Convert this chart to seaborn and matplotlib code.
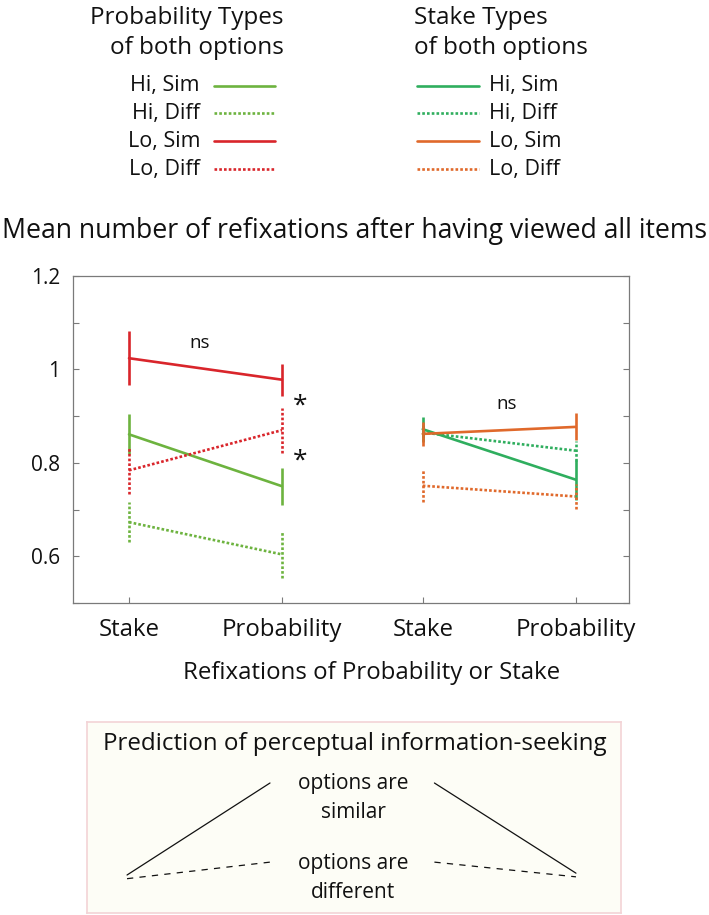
import matplotlib
matplotlib.use("Agg")
import matplotlib.pyplot as plt
import seaborn as sns
import numpy as np
import pandas as pd
from matplotlib.lines import Line2D

# ---------------- data ----------------
x_labels = ["Stake", "Probability", "Stake", "Probability"]
x_positions = [0.0, 1.0, 1.92, 2.92]
series_labels = ["Hi, Sim", "Hi, Diff", "Lo, Sim", "Lo, Diff"]
series_level = ["Hi", "Hi", "Lo", "Lo"]
series_similarity = ["Sim", "Diff", "Sim", "Diff"]

# Probability types of both options (left pair)
prob_means_at_stake = [0.861, 0.673, 1.024, 0.784]
prob_means_at_prob = [0.750, 0.604, 0.978, 0.870]
prob_err_at_stake = [0.043, 0.043, 0.058, 0.051]
prob_err_at_prob = [0.040, 0.050, 0.034, 0.048]

# Stake types of both options (right pair)
stake_means_at_stake = [0.872, 0.865, 0.862, 0.751]
stake_means_at_prob = [0.764, 0.826, 0.877, 0.728]
stake_err_at_stake = [0.026, 0.020, 0.026, 0.034]
stake_err_at_prob = [0.043, 0.021, 0.029, 0.026]

# Schematic prediction (arbitrary units)
pred_x_left = [0.0, 1.0]
pred_x_right = [2.15, 3.14]
pred_similar_left = [0.0, 1.0]
pred_similar_right = [1.0, 0.02]
pred_different_left = [-0.04, 0.14]
pred_different_right = [0.14, -0.02]

# ---------------- style ----------------
sns.set_theme(style="white")
plt.rcParams["font.family"] = ["Open Sans", "DejaVu Sans"]

GREEN_L = "#6db33f"
RED = "#d9252b"
GREEN_R = "#2fae5e"
ORANGE = "#e0692b"
GRAY = "#7a7a7a"
INK = "#111111"
LW = 1.9
DOT = (1, 0.8)

W, H = 709, 915
fig = plt.figure(figsize=(W / 100, H / 100), dpi=100)
fig.patch.set_facecolor("white")


def fx(x):
    return x / W


def fy(y):
    return 1 - y / H


def build(means_s, means_p, err_s, err_p, xs):
    rows = []
    for i, lab in enumerate(series_labels):
        rows.append(dict(series=lab, level=series_level[i], sim=series_similarity[i],
                         x=xs[0], mean=means_s[i], err=err_s[i]))
        rows.append(dict(series=lab, level=series_level[i], sim=series_similarity[i],
                         x=xs[1], mean=means_p[i], err=err_p[i]))
    return pd.DataFrame(rows)


df_prob = build(prob_means_at_stake, prob_means_at_prob, prob_err_at_stake,
                prob_err_at_prob, x_positions[:2])
df_stake = build(stake_means_at_stake, stake_means_at_prob, stake_err_at_stake,
                 stake_err_at_prob, x_positions[2:])

ax = fig.add_axes([fx(73), fy(603), fx(629) - fx(73), fy(276) - fy(603)])
ax.set_facecolor("white")

dashes = {"Sim": "", "Diff": DOT}
for df, pal in ((df_prob, {"Hi": GREEN_L, "Lo": RED}),
                (df_stake, {"Hi": GREEN_R, "Lo": ORANGE})):
    sns.lineplot(data=df, x="x", y="mean", hue="level", style="sim",
                 palette=pal, dashes=dashes, hue_order=["Hi", "Lo"],
                 style_order=["Sim", "Diff"], linewidth=LW, errorbar=None,
                 legend=False, ax=ax)
    for _, r in df.iterrows():
        ls = "-" if r["sim"] == "Sim" else (0, DOT)
        ax.vlines(r["x"], r["mean"] - r["err"], r["mean"] + r["err"],
                  colors=pal[r["level"]], linestyles=[ls], linewidth=LW)

ax.set_xlim(-0.366, 3.268)
ax.set_ylim(0.5, 1.2)
ax.set_xticks(x_positions)
ax.set_xticklabels(x_labels, fontsize=17.3, color=INK)
ax.set_yticks([0.6, 0.8, 1.0, 1.2])
ax.set_yticklabels(["0.6", "0.8", "1", "1.2"], fontsize=15, color=INK)
ax.set_yticks([0.5, 0.7, 0.9, 1.1], minor=True)
ax.tick_params(axis="both", which="both", direction="in", length=4, width=0.8,
               color=GRAY, right=True, left=True, bottom=True, top=False)
ax.tick_params(axis="y", which="major", pad=9)
ax.tick_params(axis="x", which="major", pad=11)
for s in ax.spines.values():
    s.set_color(GRAY)
    s.set_linewidth(0.9)
ax.set_ylabel("")
ax.set_xlabel("Refixations of Probability or Stake", fontsize=17.3, color=INK)
ax.xaxis.set_label_coords((372 - 73) / 556, (603 - 673) / 327)
ax.xaxis.label.set_va("center")

ax.text(0.464, 1.057, "ns", fontsize=13.5, ha="center", va="center", color=INK)
ax.text(2.47, 0.926, "ns", fontsize=13.5, ha="center", va="center", color=INK)
ax.text(1.118, 0.922, "*", fontsize=19, ha="center", va="center", color=INK)
ax.text(1.118, 0.804, "*", fontsize=19, ha="center", va="center", color=INK)

# title
fig.text(fx(355), fy(231), "Mean number of refixations after having viewed all items",
         fontsize=19.2, ha="center", va="center", color=INK)

# ---------------- legends ----------------
fig.text(fx(284), fy(18), "Probability Types", fontsize=17.5, ha="right", va="center", color=INK)
fig.text(fx(284), fy(48), "of both options", fontsize=17.5, ha="right", va="center", color=INK)
fig.text(fx(414), fy(18), "Stake Types", fontsize=17.5, ha="left", va="center", color=INK)
fig.text(fx(414), fy(48), "of both options", fontsize=17.5, ha="left", va="center", color=INK)

rows_y = [86, 113, 141, 169]
left_cols = [GREEN_L, GREEN_L, RED, RED]
right_cols = [GREEN_R, GREEN_R, ORANGE, ORANGE]
for i, lab in enumerate(series_labels):
    ls = "-" if series_similarity[i] == "Sim" else (0, DOT)
    y = rows_y[i]
    fig.text(fx(200), fy(y), lab, fontsize=15.5, ha="right", va="center", color=INK)
    fig.add_artist(Line2D([fx(214), fx(275)], [fy(y), fy(y)], color=left_cols[i],
                          linestyle=ls, linewidth=LW, transform=fig.transFigure))
    fig.add_artist(Line2D([fx(417), fx(479)], [fy(y), fy(y)], color=right_cols[i],
                          linestyle=ls, linewidth=LW, transform=fig.transFigure))
    fig.text(fx(489), fy(y), lab, fontsize=15.5, ha="left", va="center", color=INK)

# ---------------- prediction box ----------------
ax2 = fig.add_axes([fx(87), fy(913), fx(621) - fx(87), fy(722) - fy(913)])
ax2.set_facecolor("#fdfdf6")
for s in ax2.spines.values():
    s.set_color("#f3d3d6")
    s.set_linewidth(1.2)
ax2.set_xticks([])
ax2.set_yticks([])
for xs, ys, ls in ((pred_x_left, pred_similar_left, "-"),
                   (pred_x_right, pred_similar_right, "-"),
                   (pred_x_left, pred_different_left, (0, (5, 5))),
                   (pred_x_right, pred_different_right, (0, (5, 5)))):
    sns.lineplot(x=xs, y=ys, color=INK, linewidth=0.9, linestyle=ls, ax=ax2)
ax2.set_xlim(-0.28, 3.455)
ax2.set_ylim(-0.413, 1.663)

fig.text(fx(355), fy(744), "Prediction of perceptual information-seeking", fontsize=17.4,
         ha="center", va="center", color=INK)
fig.text(fx(353), fy(784), "options are", fontsize=15, ha="center", va="center", color=INK)
fig.text(fx(353), fy(813), "similar", fontsize=15, ha="center", va="center", color=INK)
fig.text(fx(353), fy(863), "options are", fontsize=15, ha="center", va="center", color=INK)
fig.text(fx(353), fy(892), "different", fontsize=15, ha="center", va="center", color=INK)

fig.savefig("out.png", dpi=100)
